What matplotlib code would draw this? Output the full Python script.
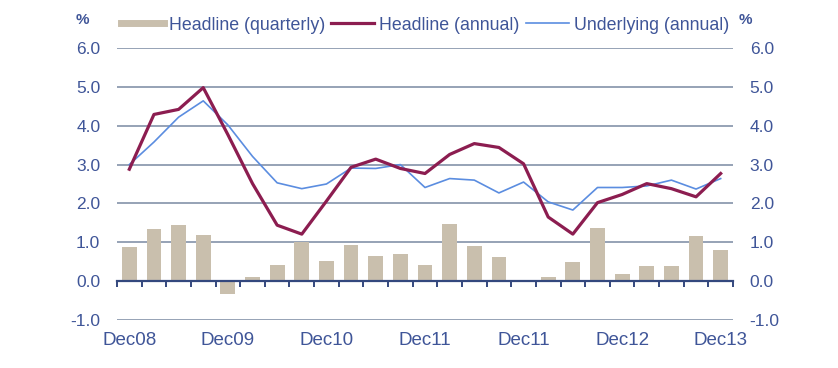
import numpy as np
import matplotlib
matplotlib.use("Agg")
import matplotlib.pyplot as plt
from matplotlib.lines import Line2D

plt.rcParams['font.family'] = ['Liberation Sans', 'DejaVu Sans']

# Data (quarterly, Dec08 .. Dec13)
quarters = ["Dec08", "Mar09", "Jun09", "Sep09", "Dec09", "Mar10", "Jun10", "Sep10",
            "Dec10", "Mar11", "Jun11", "Sep11", "Dec11", "Mar12", "Jun12", "Sep12",
            "Dec12", "Mar13", "Jun13", "Sep13", "Dec13", "Mar14", "Jun14", "Sep14", "Dec14"]
xlabels = ["Dec08", "Dec09", "Dec10", "Dec11", "Dec11", "Dec12", "Dec13"]
headline_q = [0.89, 1.34, 1.45, 1.19, -0.32, 0.11, 0.42, 1.0, 0.52, 0.93, 0.64, 0.71, 0.41,
              1.46, 0.9, 0.61, 0.0, 0.11, 0.49, 1.38, 0.19, 0.38, 0.38, 1.16, 0.79]
headline_a = [2.88, 4.29, 4.42, 4.98, 3.77, 2.51, 1.44, 1.21, 2.06, 2.93, 3.14, 2.9, 2.77,
              3.26, 3.54, 3.44, 3.02, 1.65, 1.21, 2.02, 2.23, 2.51, 2.38, 2.17, 2.77]
underlying_a = [3.0, 3.58, 4.22, 4.64, 4.02, 3.21, 2.53, 2.38, 2.5, 2.91, 2.9, 3.0, 2.41,
                2.64, 2.6, 2.27, 2.55, 2.04, 1.83, 2.41, 2.41, 2.45, 2.6, 2.37, 2.64]

text_col = '#3f5598'
bar_col = '#c9bfad'
head_col = '#8c1d50'
und_col = '#5b8de0'
grid_col = '#8e9bb0'
axis_col = '#34487e'

x = np.arange(len(quarters))

fig = plt.figure(figsize=(8.38, 3.68), dpi=100)
ax = fig.add_axes([117 / 838, 48 / 368, 616 / 838, 272 / 368])

# gridlines (except zero, drawn as the axis)
for v in [-1, 1, 2, 3, 4, 5, 6]:
    ax.axhline(v, color=grid_col, lw=1.3, zorder=0)

ax.bar(x, headline_q, width=0.6, color=bar_col, zorder=2)
ax.plot(x, underlying_a, color=und_col, lw=1.2, zorder=3)
ax.plot(x, headline_a, color=head_col, lw=2.3, zorder=4)

ax.set_xlim(-0.5, len(quarters) - 0.5)
ax.set_ylim(-1, 6)

for s in ['left', 'right', 'top']:
    ax.spines[s].set_visible(False)
ax.spines['bottom'].set_position(('data', 0))
ax.spines['bottom'].set_color(axis_col)
ax.spines['bottom'].set_linewidth(1.6)
ax.spines['bottom'].set_zorder(5)

ax.set_xticks(np.arange(-0.5, len(quarters), 1))
ax.tick_params(axis='x', direction='out', length=4, width=1.4, color=axis_col, labelbottom=False)

ax.set_yticks(range(-1, 7))
ax.set_yticklabels([f"{v:.1f}" for v in range(-1, 7)])
ax.tick_params(axis='y', length=0, labelsize=12.5, labelcolor=text_col,
               labelleft=True, labelright=True, pad=12)

for i, lab in zip(range(0, len(quarters), 4), xlabels):
    ax.text(i, -0.045, lab, transform=ax.get_xaxis_transform(), ha='center', va='top',
            fontsize=13.5, color=text_col)

fig.text(82 / 838, 1 - 20 / 368, "%", ha='center', va='center', fontsize=11,
         color=text_col, fontweight='bold')
fig.text(745 / 838, 1 - 20 / 368, "%", ha='center', va='center', fontsize=11,
         color=text_col, fontweight='bold')

handles = [Line2D([0], [0], color=bar_col, lw=5),
           Line2D([0], [0], color=head_col, lw=2.3),
           Line2D([0], [0], color=und_col, lw=1.2)]
labels = ["Headline (quarterly)", "Headline (annual)", "Underlying (annual)"]
leg = fig.legend(handles, labels, loc='center', bbox_to_anchor=(425 / 838, 1 - 25 / 368),
                 ncol=3, frameon=False, fontsize=12.8, handlelength=2.4,
                 handletextpad=0.3, columnspacing=0.35, borderpad=0)
for t in leg.get_texts():
    t.set_color(text_col)

fig.savefig("out.png", dpi=100)
